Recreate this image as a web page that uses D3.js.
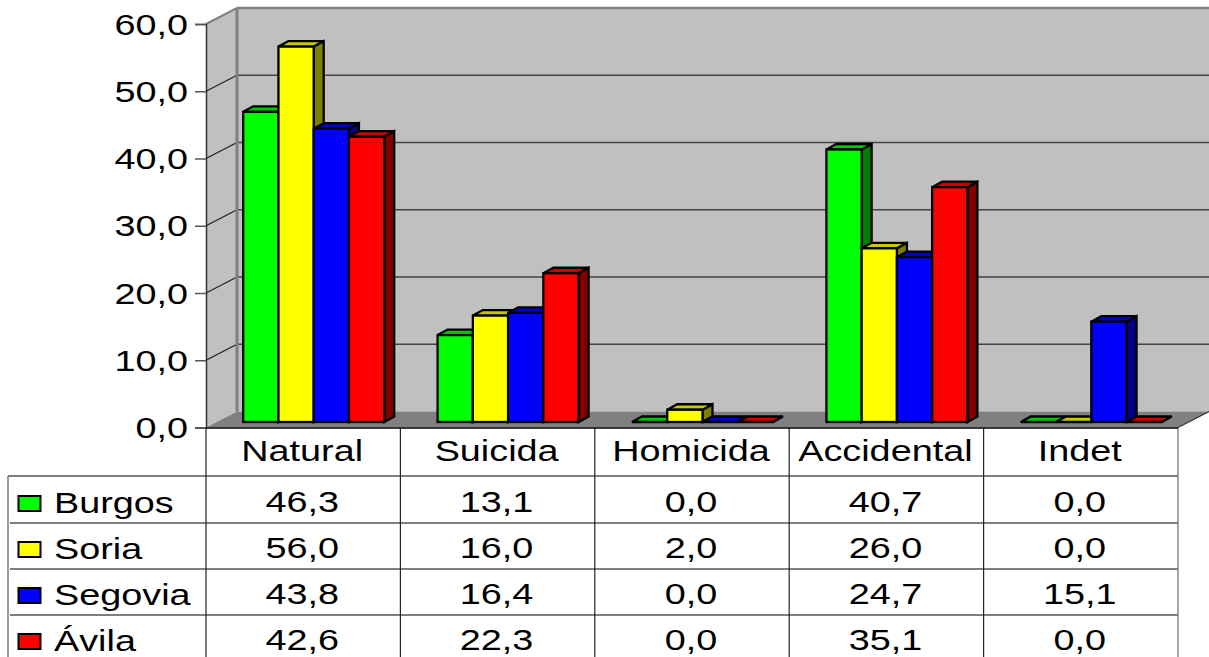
<!DOCTYPE html>
<html>
<head>
<meta charset="utf-8">
<script src="https://cdn.jsdelivr.net/npm/d3@7"></script>
<style>
body { margin: 0; background: #fff; overflow: hidden; }
text { font-family: "Liberation Sans", Arial, sans-serif; fill: #000; }
</style>
</head>
<body>
<script>
const categories = ["Natural", "Suicida", "Homicida", "Accidental", "Indet"];
const seriesNames = ["Burgos", "Soria", "Segovia", "Ávila"];
const burgos = [46.3, 13.1, 0.0, 40.7, 0.0];
const soria = [56.0, 16.0, 2.0, 26.0, 0.0];
const segovia = [43.8, 16.4, 0.0, 24.7, 15.1];
const avila = [42.6, 22.3, 0.0, 35.1, 0.0];
const tickValues = [0, 10, 20, 30, 40, 50, 60];
const colors = ["#00ff00", "#ffff00", "#0000ff", "#ff0000"];
const topColors = ["#00c800", "#c8c800", "#0000c8", "#c80000"];
const sideColors = ["#008000", "#808000", "#000080", "#800000"];

const seriesValues = [burgos, soria, segovia, avila];
const w = 1209, h = 657;
const left = 206, right = 1178, y0 = 427.5, y60 = 24;
const wallDx = 31, wallDy = -16;   // depth of the whole box
const barDx = 10, barDy = -5.5;    // depth of one bar
const shiftX = 10.5, shiftY = -5.5;  // bars sit a bit behind the front plane
const topNudge = 1.2;              // bar tops read a little lower than the base offset
const textScale = 1.26;
const fontSize = 30;

const svg = d3.select("body").append("svg").attr("width", w).attr("height", h).style("display", "block");

const x = d3.scaleBand().domain(categories).range([left, right]);
const xBar = d3.scaleBand().domain(seriesNames).range([0, 141]);
const y = d3.scaleLinear().domain([0, 60]).range([y0, y60]);
const fmt = d => d3.format(".1f")(d).replace(".", ",");

function poly(pts, fill, stroke, sw) {
    svg.append("polygon")
        .attr("points", pts.map(p => p.join(",")).join(" "))
        .attr("fill", fill)
        .attr("stroke", stroke || "none")
        .attr("stroke-width", sw || 0)
        .attr("stroke-linejoin", "miter");
}

function line(x1, y1, x2, y2, color, sw) {
    svg.append("line").attr("x1", x1).attr("y1", y1).attr("x2", x2).attr("y2", y2)
        .attr("stroke", color).attr("stroke-width", sw);
}

function label(str, px, py, anchor) {
    svg.append("text")
        .attr("transform", "translate(" + px + "," + py + ") scale(" + textScale + ",1)")
        .attr("text-anchor", anchor)
        .attr("font-size", fontSize)
        .text(str);
}

// walls and floor
poly([[left, y60], [left + wallDx, y60 + wallDy], [left + wallDx, y0 + wallDy], [left, y0]], "#c0c0c0");
poly([[left + wallDx, y60 + wallDy], [right + wallDx, y60 + wallDy], [right + wallDx, y0 + wallDy], [left + wallDx, y0 + wallDy]], "#c0c0c0");
poly([[left, y0], [right, y0], [right + wallDx, y0 + wallDy], [left + wallDx, y0 + wallDy]], "#808080");

// gridlines, side wall then back wall
tickValues.filter(t => t > 0 && t < 60).forEach(t => {
    line(left, y(t), left + wallDx, y(t) + wallDy, "#222", 1.3);
    line(left + wallDx, y(t) + wallDy, right + wallDx, y(t) + wallDy, "#444", 1.3);
});
line(left + wallDx, y60 + wallDy, left + wallDx, y0 + wallDy, "#808080", 3);
line(left, y60, left + wallDx, y60 + wallDy, "#808080", 2);
line(left + wallDx, y60 + wallDy, right + wallDx, y60 + wallDy, "#808080", 2.5);
line(right, y0, right + wallDx, y0 + wallDy, "#333", 1.2);

// bars
categories.forEach((c, i) => {
    seriesNames.forEach((s, j) => {
        const v = seriesValues[j][i];
        const bw = xBar.bandwidth();
        const bx = x(c) + x.bandwidth() / 2 - 70.5 + shiftX + xBar(s);
        const base = y(0) + shiftY;
        const by = v > 0 ? y(v) + shiftY + topNudge : base;
        if (v > 0) {
            poly([[bx + bw, by], [bx + bw + barDx, by + barDy], [bx + bw + barDx, base + barDy], [bx + bw, base]], sideColors[j], "#000", 2.3);
        }
        poly([[bx, by], [bx + barDx, by + barDy], [bx + bw + barDx, by + barDy], [bx + bw, by]], topColors[j], "#000", 2.3);
        if (v > 0) {
            svg.append("rect").attr("x", bx).attr("y", by).attr("width", bw).attr("height", base - by)
                .attr("fill", colors[j]).attr("stroke", "#000").attr("stroke-width", 2.3);
        }
    });
});

// value axis
const axis = svg.append("g")
    .attr("transform", "translate(" + left + ",0)")
    .call(d3.axisLeft(y).tickValues(tickValues).tickFormat(fmt).tickSize(11).tickPadding(0));
axis.select(".domain").attr("stroke", "#333").attr("stroke-width", 1.5);
axis.selectAll(".tick line").attr("stroke", "#555").attr("stroke-width", 1.5);
axis.selectAll(".tick text")
    .attr("x", -18 / textScale)
    .attr("dy", "0.34em")
    .attr("transform", "scale(" + textScale + ",1)")
    .attr("font-size", fontSize)
    .attr("font-family", "Liberation Sans, Arial, sans-serif")
    .attr("fill", "#000");

// data table
const rowY = [476, 523, 569, 615];
const rowBase = [512, 558, 604, 650];
rowY.forEach((ry, r) => line(r === 0 ? 8 : 10, ry, right, ry, "#555", 1.3));
line(8, rowY[0], 8, h, "#666", 1.3);
categories.forEach(c => line(x(c), y0, x(c), h, "#222", 1.2));
line(right, y0, right, h, "#777", 1.3);
line(left, y0 + 0.5, right, y0 + 0.5, "#000", 1.5);

categories.forEach((c, i) => {
    const cx = x(c) + x.bandwidth() / 2;
    label(c, cx - 1, 461, "middle");
    seriesNames.forEach((s, j) => {
        label(fmt(seriesValues[j][i]), cx - 1, rowBase[j] - 0.5, "middle");
    });
});
seriesNames.forEach((s, j) => {
    svg.append("rect").attr("x", 18.5).attr("y", rowBase[j] - 16).attr("width", 22).attr("height", 15)
        .attr("fill", colors[j]).attr("stroke", "#000").attr("stroke-width", 2);
    label(s, 54, rowBase[j] + 1, "start");
});
</script>
</body>
</html>
